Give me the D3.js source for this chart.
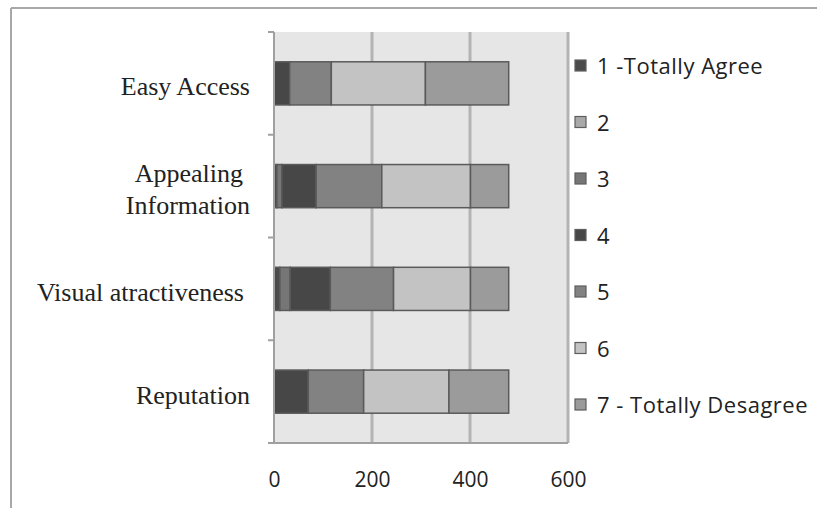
<!DOCTYPE html>
<html>
<head>
<meta charset="utf-8">
<script src="https://cdn.jsdelivr.net/npm/d3@7"></script>
<style>
  html, body { margin: 0; padding: 0; background: #fff; }
  svg { display: block; }
</style>
</head>
<body>
<svg id="chart" width="817" height="508"></svg>
<script>
// Survey items (top to bottom)
const categories = ["Easy Access", "Appealing Information", "Visual atractiveness", "Reputation"];

// Answer scale, 1 = totally agree … 7 = totally disagree
const seriesNames = ["1 -Totally Agree", "2", "3", "4", "5", "6", "7 - Totally Desagree"];

// Number of answers per scale point, one array per item
const easyAccess   = [0, 0, 0, 32, 85, 192, 170];
const appealing    = [6, 0, 10, 70, 134, 181, 78];
const visual       = [12, 0, 21, 82, 129, 157, 78];
const reputation   = [0, 0, 0, 70, 113, 174, 122];

const xTicks = [0, 200, 400, 600];

const seriesColors = ["#4b4b4b", "#a9a9a9", "#767676", "#474747", "#828282", "#c3c3c3", "#9b9b9b"];

const rows = [easyAccess, appealing, visual, reputation].map((vals, i) => {
  const r = { category: categories[i] };
  seriesNames.forEach((s, j) => r[s] = vals[j]);
  return r;
});

const svg = d3.select("#chart");

// outer frame
svg.append("line").attr("x1", 11).attr("x2", 817).attr("y1", 8).attr("y2", 8)
  .attr("stroke", "#a8a8a8").attr("stroke-width", 2);
svg.append("line").attr("x1", 11).attr("x2", 11).attr("y1", 8).attr("y2", 508)
  .attr("stroke", "#a8a8a8").attr("stroke-width", 2);

const plot = { left: 274, right: 568, top: 32, bottom: 443 };

const x = d3.scaleLinear().domain([0, 600]).range([plot.left, plot.right]);
const y = d3.scaleBand().domain(categories).range([plot.top, plot.bottom])
  .paddingInner(0.58).paddingOuter(0.29);

// plot background
svg.append("rect").attr("x", plot.left).attr("y", plot.top)
  .attr("width", plot.right - plot.left).attr("height", plot.bottom - plot.top)
  .attr("fill", "#e6e6e6");

// vertical gridlines
svg.append("g").selectAll("line").data(xTicks.slice(1)).join("line")
  .attr("x1", d => x(d)).attr("x2", d => x(d))
  .attr("y1", plot.top).attr("y2", plot.bottom)
  .attr("stroke", "#b3b3b3").attr("stroke-width", 3);

// stacked bars
const stack = d3.stack().keys(seriesNames);
const layers = stack(rows);

svg.append("g").selectAll("g").data(layers).join("g")
  .attr("fill", (d, i) => seriesColors[i])
  .selectAll("rect").data(d => d.filter(p => p[1] - p[0] > 0)).join("rect")
  .attr("x", d => x(d[0]))
  .attr("width", d => x(d[1]) - x(d[0]))
  .attr("y", d => y(d.data.category))
  .attr("height", y.bandwidth())
  .attr("stroke", "#5a5a5a").attr("stroke-width", 1.5);

// category axis
const yAxisG = svg.append("g").attr("transform", `translate(${plot.left},0)`);
yAxisG.append("line").attr("x1", 0).attr("x2", 0).attr("y1", plot.top).attr("y2", plot.bottom)
  .attr("stroke", "#a0a0a0").attr("stroke-width", 2);
const bandEdges = categories.map(c => y(c) - y.step() * y.paddingInner() / 2);
bandEdges[0] = plot.top;
bandEdges.push(plot.bottom);
yAxisG.selectAll("line.tick").data(bandEdges).join("line").attr("class", "tick")
  .attr("x1", -6).attr("x2", 0).attr("y1", d => d).attr("y2", d => d)
  .attr("stroke", "#a0a0a0").attr("stroke-width", 2);

// category labels (serif, wrapped where needed)
const labelLines = {
  "Easy Access": [["Easy Access", 250]],
  "Appealing Information": [["Appealing", 243], ["Information", 250]],
  "Visual atractiveness": [["Visual atractiveness", 244]],
  "Reputation": [["Reputation", 250]]
};
categories.forEach(c => {
  const lines = labelLines[c];
  const cy = y(c) + y.bandwidth() / 2;
  const lh = 32;
  const t = svg.append("text")
    .attr("text-anchor", "end")
    .attr("font-family", "'Liberation Serif', 'DejaVu Serif', serif")
    .attr("font-size", 26)
    .attr("fill", "#222");
  lines.forEach(([ln, xr], i) => {
    t.append("tspan")
      .attr("x", xr)
      .attr("y", cy + (i - (lines.length - 1) / 2) * lh + 12)
      .text(ln);
  });
});

// value axis
const xAxis = d3.axisBottom(x).tickValues(xTicks).tickSize(0).tickPadding(0);
const xAxisG = svg.append("g").attr("transform", `translate(0,${plot.bottom})`).call(xAxis);
xAxisG.select(".domain").remove();
xAxisG.append("line").attr("x1", plot.left - 6).attr("x2", plot.right)
  .attr("y1", 0).attr("y2", 0).attr("stroke", "#a0a0a0").attr("stroke-width", 2);
xAxisG.selectAll(".tick text")
  .attr("y", 29)
  .attr("font-family", "'Open Sans', Lato, sans-serif")
  .attr("font-size", 21)
  .attr("fill", "#222");

// legend
const legend = svg.append("g");
const legendY = d3.scalePoint().domain(seriesNames).range([66, 405]);
const items = legend.selectAll("g").data(seriesNames).join("g")
  .attr("transform", d => `translate(575,${legendY(d)})`);
items.append("rect")
  .attr("x", 0).attr("y", -6).attr("width", 11).attr("height", 11)
  .attr("fill", (d, i) => seriesColors[i])
  .attr("stroke", "#5e5e5e").attr("stroke-width", 1.2);
items.append("text")
  .attr("x", 22).attr("y", 8)
  .attr("font-family", "'Open Sans', Lato, sans-serif")
  .attr("font-size", 22)
  .attr("letter-spacing", 0.5)
  .attr("fill", "#222")
  .text(d => d);
</script>
</body>
</html>
